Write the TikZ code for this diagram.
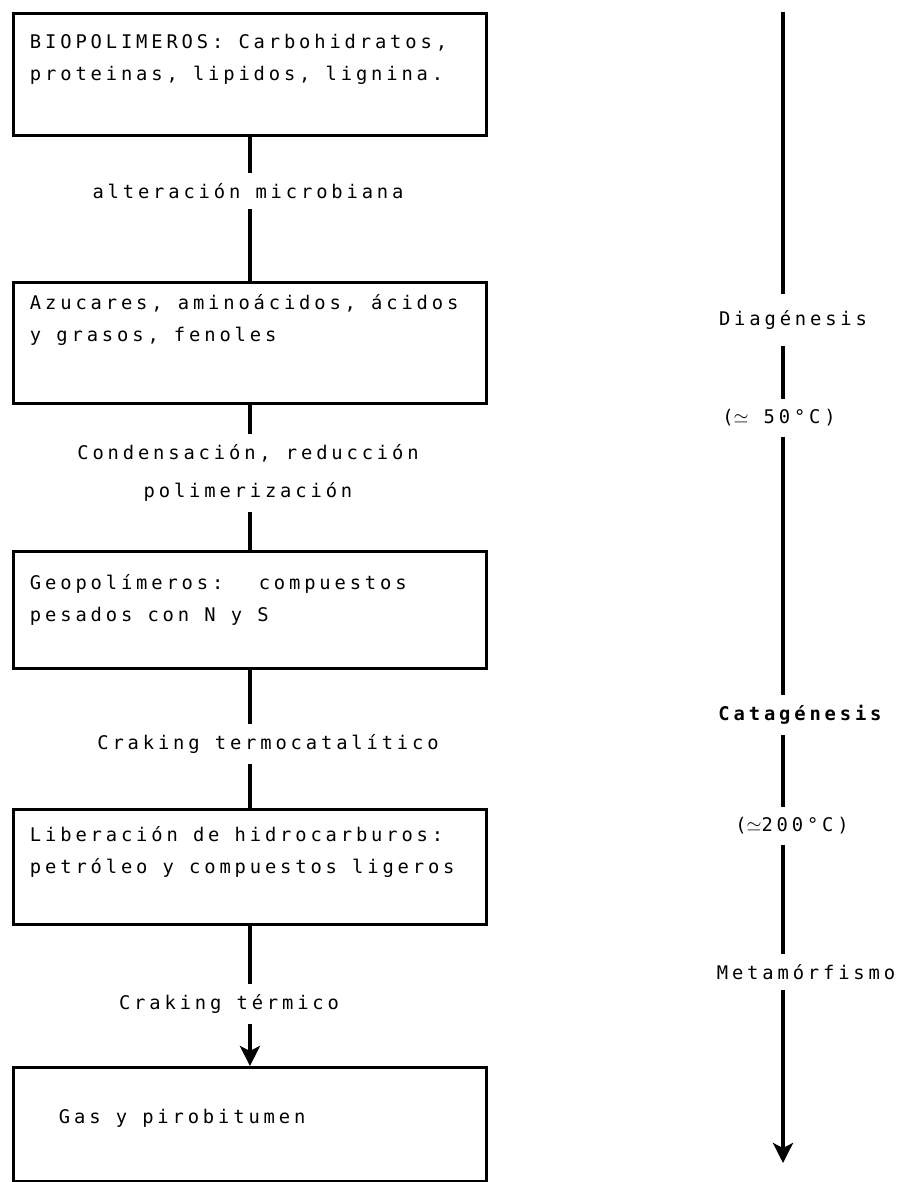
\documentclass[tikz,border=0pt]{standalone}
\usepackage{fontspec}
\usetikzlibrary{arrows.meta}
\newfontfamily\typewriter[LetterSpace=20.5]{DejaVu Sans Mono}
\newcommand{\tw}{\typewriter\fontsize{10.7}{18.1}\selectfont}

\begin{document}
\begin{tikzpicture}[x=0.02cm, y=-0.02cm,
		stage/.style={draw, line width=1.7pt, anchor=north west, inner xsep=0.33cm, inner ysep=0pt,
			text width=8.8cm, align=left, font=\tw,
			execute at begin node={\spaceskip=0pt\xspaceskip=0pt}},
		via/.style={inner xsep=2pt, inner ysep=0.2cm, align=center,
			font=\typewriter\fontsize{10.7}{22.1}\selectfont},
		link/.style={line width=2.3pt},
		tip/.style={-{Stealth[length=0.4cm, width=0.4cm, inset=0.1cm]}}]

		\useasboundingbox (0,0) rectangle (899,1182);

		% Stages
		\node[stage, text height=0.70cm, text depth=1.74cm] (bio) at (12,12)
			{BIOPOLIMEROS: Carbohidratos,\\proteinas, lipidos, lignina.};
		\node[stage, text height=0.54cm, text depth=1.88cm] (azu) at (12,281)
			{Azucares, aminoácidos, ácidos\\y grasos, fenoles};
		\node[stage, text height=0.76cm, text depth=1.58cm] (geo) at (12,550)
			{Geopolímeros:~ compuestos\\pesados con N y S};
		\node[stage, text height=0.64cm, text depth=1.66cm] (lib) at (12,808)
			{Liberación de hidrocarburos:\\petróleo y compuestos ligeros};
		\node[stage, text height=1.12cm, text depth=1.16cm] (gas) at (12,1066)
			{\hspace*{0.58cm}Gas y pirobitumen};

		% Processes between the stages
		\node[via] (alt) at (248,191) {alteración microbiana};
		\node[via] (con) at (248,473) {Condensación, reducción\\polimerización};
		\node[via] (ter) at (268,744) {Craking termocatalítico};
		\node[via] (tei) at (229,1004) {Craking térmico};

		\foreach \a/\p/\b in {bio/alt/azu, azu/con/geo, geo/ter/lib} {
			\draw[link] (\a.south) -- (\a.south |- \p.north);
			\draw[link] (\b.north |- \p.south) -- (\b.north);
		}
		\draw[link] (lib.south) -- (lib.south |- tei.north);
		\draw[link, tip] (gas.north |- tei.south) -- (gas.north);

		% Time scale on the right
		\coordinate (top) at (783,12);
		\coordinate (bot) at (783,1163);
		\node[via, inner ysep=0.32cm] (dia) at (793,320) {Diagénesis};
		\node[via] (t50) at (779,418) {($\simeq$ 50°C)};
		\node[via, font=\tw\bfseries] (cat) at (800,715) {Catagénesis};
		\node[via] (t200) at (792,826) {($\simeq$200°C)};
		\node[via] (met) at (806,972) {Metamórfismo};

		\draw[link] (top) -- (top |- dia.north);
		\foreach \a/\b in {dia/t50, t50/cat, cat/t200, t200/met} {
			\draw[link] (top |- \a.south) -- (top |- \b.north);
		}
		\draw[link, tip] (top |- met.south) -- (bot);
	\end{tikzpicture}
\end{document}
